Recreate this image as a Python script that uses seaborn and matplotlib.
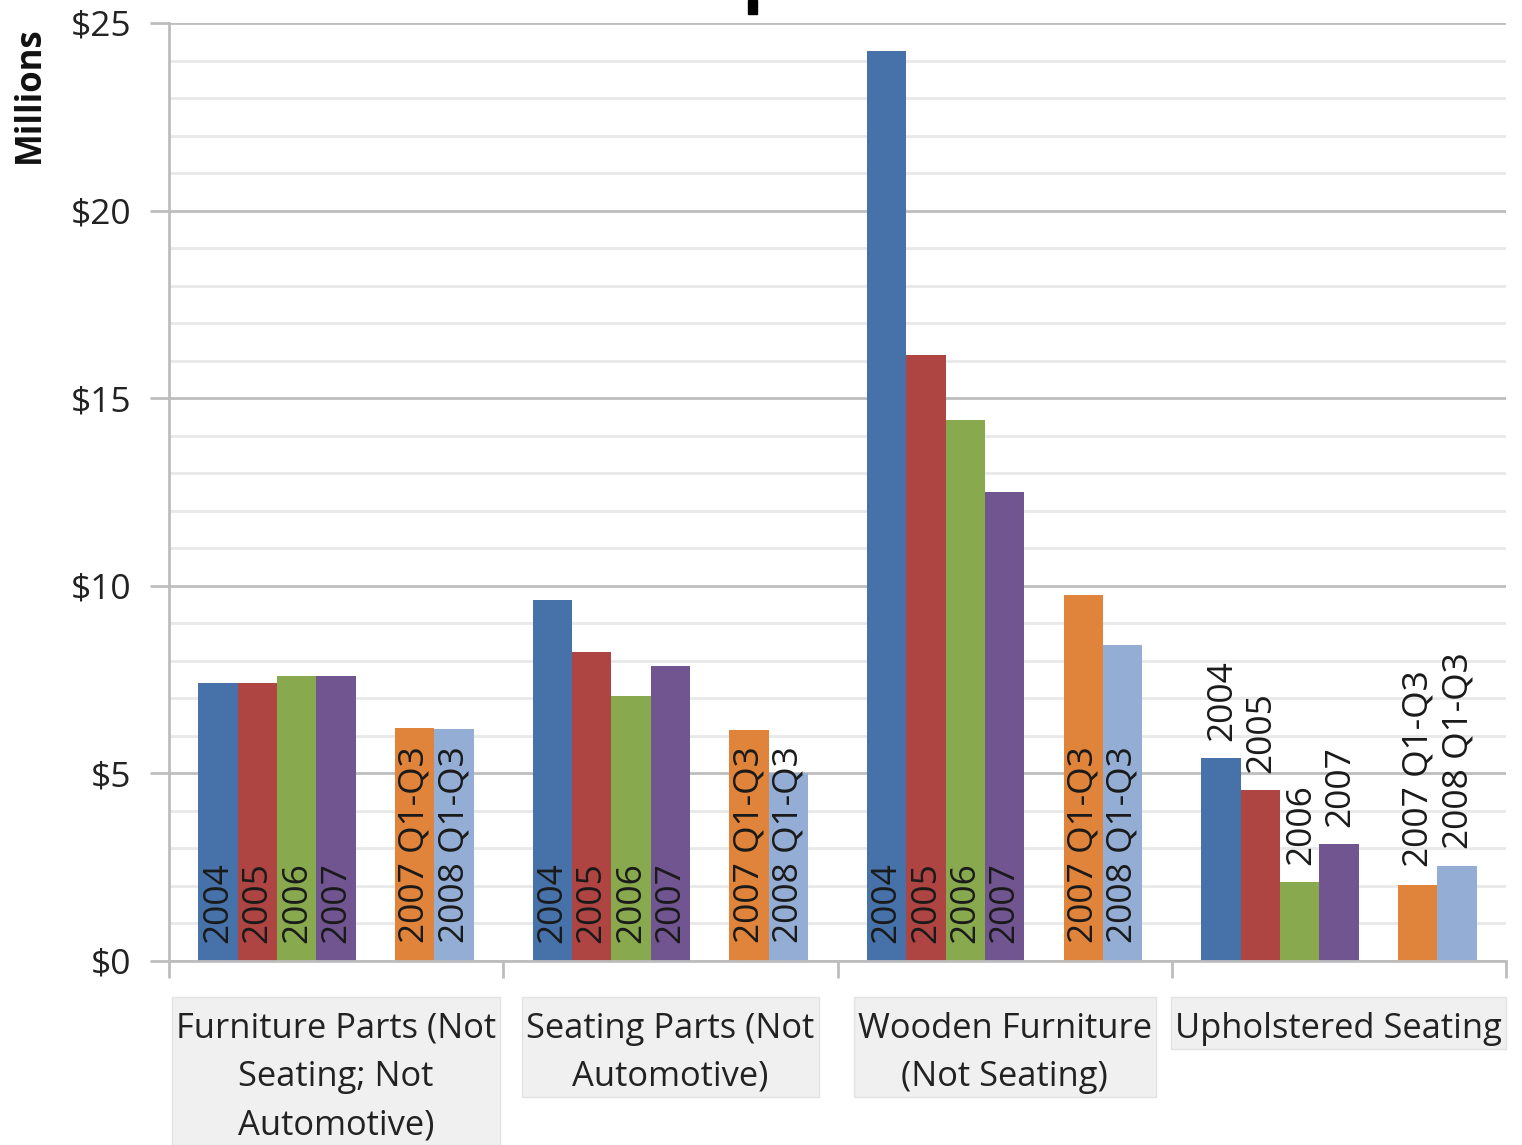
import numpy as np
import pandas as pd
import seaborn as sns
import matplotlib
matplotlib.use("Agg")
import matplotlib.pyplot as plt
from matplotlib.patches import Rectangle
from matplotlib.path import Path
from matplotlib.ticker import MultipleLocator, FuncFormatter

categories = ["Furniture Parts (Not\nSeating; Not\nAutomotive)",
              "Seating Parts (Not\nAutomotive)",
              "Wooden Furniture\n(Not Seating)",
              "Upholstered Seating"]
series = ["2004", "2005", "2006", "2007", "2007 Q1-Q3", "2008 Q1-Q3"]
v2004 = [7.41, 9.62, 24.25, 5.41]
v2005 = [7.41, 8.24, 16.15, 4.56]
v2006 = [7.60, 7.06, 14.42, 2.10]
v2007 = [7.60, 7.86, 12.50, 3.12]
v2007q = [6.21, 6.16, 9.75, 2.03]
v2008q = [6.18, 5.01, 8.42, 2.53]
values = [v2004, v2005, v2006, v2007, v2007q, v2008q]
colors = ["#4672A9", "#AE4542", "#88A94E", "#705591", "#DF843A", "#94ADD4"]
gap = " "
hue_order = series[:4] + [gap] + series[4:]

rows = []
for s, vals in zip(series, values):
    for c, v in zip(categories, vals):
        rows.append({"category": c, "series": s, "value": v})
df = pd.DataFrame(rows)

sns.set_style("white")
FONT = ["Open Sans", "DejaVu Sans"]
plt.rcParams["font.family"] = FONT

W, H = 1522, 1145
fig = plt.figure(figsize=(W / 100, H / 100), dpi=100)
ax = fig.add_axes([169 / W, 1 - 961 / H, (1506 - 169) / W, (961 - 23) / H])

palette = dict(zip(series, colors))
palette[gap] = "white"
sns.barplot(data=df, x="category", y="value", hue="series", hue_order=hue_order,
            order=categories, palette=palette, width=0.824, dodge=True,
            saturation=1, legend=False, ax=ax, errorbar=None, linewidth=0)

ax.set_xlim(-0.5, 3.5)
ax.set_ylim(0, 25)
ax.yaxis.set_major_locator(MultipleLocator(5))
ax.yaxis.set_minor_locator(MultipleLocator(1))
ax.yaxis.set_major_formatter(FuncFormatter(lambda v, p: f"${v:.0f}"))
ax.grid(axis="y", which="major", color="#BDBDBD", linewidth=2)
ax.grid(axis="y", which="minor", color="#E8E8E8", linewidth=2)
ax.set_axisbelow(True)
for side in ["top", "right"]:
    ax.spines[side].set_visible(False)
for side in ["left", "bottom"]:
    ax.spines[side].set_color("#BDBDBD")
    ax.spines[side].set_linewidth(2)


def label_box(x0, y0, width, height, mutation_size):
    # asymmetric padding in pixels: left, right, bottom, top
    l, r, b, t = 4, 4, 3, 15
    xa, xb = x0 - l, x0 + width + r
    ya, yb = y0 - b, y0 + height + t
    return Path([(xa, ya), (xb, ya), (xb, yb), (xa, yb), (xa, ya)],
                [Path.MOVETO, Path.LINETO, Path.LINETO, Path.LINETO, Path.CLOSEPOLY])


ax.tick_params(axis="y", which="major", length=14, width=2, color="#BDBDBD",
               labelsize=25.5, labelcolor="#222222", pad=13, left=True)
ax.tick_params(axis="y", which="minor", length=0)
ax.set_xticks(np.arange(-0.5, 4.0, 1.0), minor=True)
ax.tick_params(axis="x", which="minor", length=12, width=2, color="#BDBDBD", bottom=True)
ax.tick_params(axis="x", which="major", length=0, labelsize=24.8, labelcolor="#222222", pad=36.5)
for lbl in ax.get_xticklabels():
    lbl.set_linespacing(1.55)
    lbl.set_va("top")
    lbl.set_bbox(dict(boxstyle=label_box, facecolor="#F0F0F0", edgecolor="#E2E2E2"))
ax.set_xlabel("")
ax.set_ylabel("")

if len(ax.containers) == len(hue_order):
    names = hue_order
else:
    names = [h for h in hue_order if h in set(df["series"])]
for cont, name in zip(ax.containers, names):
    if name == gap:
        continue
    for i, bar in enumerate(cont):
        h = bar.get_height()
        if not np.isfinite(h) or h == 0:
            continue
        xc = bar.get_x() + bar.get_width() / 2
        if i == 3:
            ax.annotate(name, (xc, h), xytext=(1, 12.5), textcoords="offset points",
                        rotation=90, ha="center", va="bottom", fontsize=25.5,
                        color="#1a1a1a")
        else:
            ax.annotate(name, (xc, 0), xytext=(0, 13), textcoords="offset points",
                        rotation=90, ha="center", va="bottom", fontsize=25.5,
                        color="#1a1a1a")

fig.text(30 / W, 1 - 26 / H, "Millions", rotation=90, ha="center", va="top",
         fontsize=25, fontweight="bold", color="#111111")
fig.add_artist(Rectangle((748 / W, 1 - 14 / H), 9 / W, 14 / H,
                         transform=fig.transFigure, color="black"))

fig.savefig("out.png", dpi=100, facecolor="white")
